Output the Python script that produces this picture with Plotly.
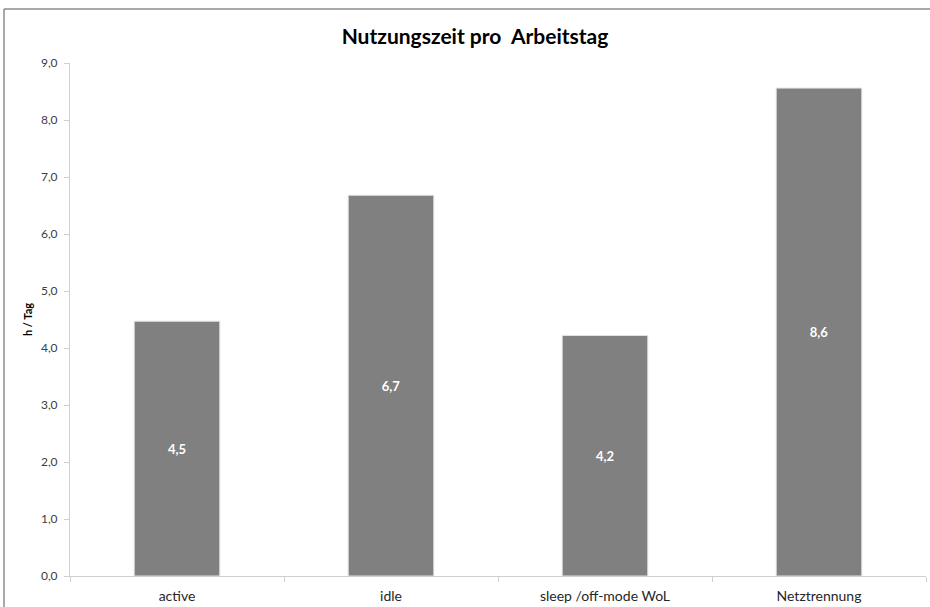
import plotly.graph_objects as go

categories = ["active", "idle", "sleep /off-mode WoL", "Netztrennung"]
hours_per_day = [4.47, 6.68, 4.22, 8.56]
y_ticks = [0, 1, 2, 3, 4, 5, 6, 7, 8, 9]

W, H = 930, 607
ml, mr, mt, mb = 70, 4, 63, 31
pw, ph = W - ml - mr, H - mt - mb

fig = go.Figure()
fig.add_trace(go.Bar(
    x=categories,
    y=hours_per_day,
    width=0.4,
    marker=dict(color="#808080", line=dict(color="#e3e3e3", width=1)),
    texttemplate="<b>%{y:.1f}</b>",
    textposition="inside",
    insidetextanchor="middle",
    textangle=0,
    textfont=dict(family="Lato", size=13, color="white"),
    hoverinfo="skip",
))

fig.update_layout(
    width=W, height=H,
    margin=dict(l=ml, r=mr, t=mt, b=mb),
    paper_bgcolor="white",
    plot_bgcolor="white",
    separators=",.",
    showlegend=False,
    font=dict(family="Lato", color="#404040"),
    title=dict(
        text="<b>Nutzungszeit pro  Arbeitstag</b>",
        x=(475 - ml) / pw, xref="paper", xanchor="center",
        y=1 - 37 / H, yref="container", yanchor="middle",
        font=dict(family="Lato", size=21, color="#000000"),
    ),
    xaxis=dict(
        showline=True, linecolor="#d0d0d0", linewidth=1,
        ticks="outside", tickson="boundaries", ticklen=5, tickcolor="#d0d0d0",
        showgrid=False, ticklabelstandoff=7,
        tickfont=dict(family="Lato", size=14, color="#262626"),
    ),
    yaxis=dict(
        range=[0, 9], tickvals=y_ticks, tickformat=".1f",
        showline=True, linecolor="#d0d0d0", linewidth=1,
        ticks="outside", ticklen=5, tickcolor="#d0d0d0",
        showgrid=False, zeroline=False, ticklabelstandoff=4,
        tickfont=dict(family="Lato", size=12, color="#404040"),
        title=dict(text="<b>h / Tag</b>", font=dict(family="Lato", size=11, color="#000000"), standoff=6),
    ),
)

# outer chart frame: only its left and top edges fall inside the picture
fx0 = (4 - ml) / pw
fy1 = (H - mb - 9) / ph
frame = dict(color="#8c8c8c", width=1.5)
fig.add_shape(type="line", xref="paper", yref="paper",
              x0=fx0, x1=fx0, y0=-0.2, y1=fy1, line=frame)
fig.add_shape(type="line", xref="paper", yref="paper",
              x0=fx0, x1=1.2, y0=fy1, y1=fy1, line=frame)

fig.write_html(
    "out.html",
    config={"displayModeBar": False},
    post_script="document.body.style.margin='0';document.body.style.overflow='hidden';",
)
